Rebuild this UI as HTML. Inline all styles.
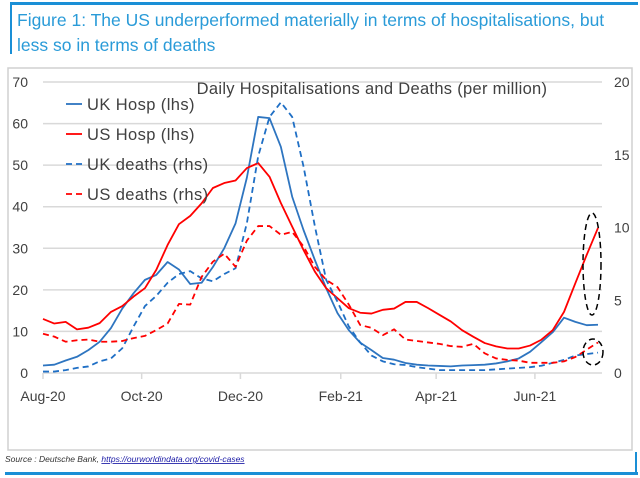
<!DOCTYPE html>
<html><head><meta charset="utf-8"><style>
body{margin:0;background:#fff;width:640px;height:478px;overflow:hidden;font-family:"Liberation Sans",sans-serif}
</style></head><body>
<svg width="640" height="478" style="position:absolute;left:0;top:0">
<rect x="10" y="2" width="628" height="3" fill="#1a8fd6"/>
<rect x="10" y="2" width="2" height="52" fill="#1a8fd6"/>
<text x="17" y="26" font-size="17.5" fill="#2a9bd8">Figure 1: The US underperformed materially in terms of hospitalisations, but</text>
<text x="17" y="51" font-size="17.5" fill="#2a9bd8">less so in terms of deaths</text>
<rect x="8" y="68" width="624" height="382" fill="none" stroke="#d0d0d0" stroke-width="1.5"/>
<text x="5" y="462" font-size="8.5" font-style="italic" fill="#333">Source : Deutsche Bank, <tspan fill="#1a1aa6" text-decoration="underline">https://ourworldindata.org/covid-cases</tspan></text>
<rect x="5" y="472" width="633" height="3" fill="#1a8fd6"/>
<rect x="635" y="452" width="2" height="22" fill="#1a8fd6"/>
<g id="chart"></g>
</svg>
<script>
const xLabels=["Aug-20","Oct-20","Dec-20","Feb-21","Apr-21","Jun-21"];
const xTickWeeks=[0,8.71,17.43,26.29,34.71,43.43];
const leftTicks=[0,10,20,30,40,50,60,70];
const rightTicks=[0,5,10,15,20];
const ukHosp=[1.8,2,3,3.9,5.5,7.5,10.8,15.5,19.2,22.4,23.6,26.7,24.9,21.4,21.7,25.5,30,36,47,61.6,61.3,54.4,42.4,34.4,27.2,20.4,14.4,10.3,7.3,5.5,3.6,3.2,2.4,2,1.8,1.7,1.6,1.8,1.9,2,2.3,2.8,3.5,5.1,7.4,9.8,13.3,12.3,11.5,11.6];
const usHosp=[13,11.9,12.3,10.5,10.9,12,14.7,16.1,18.4,20.4,24.8,30.8,35.8,37.8,40.8,44.5,45.7,46.3,49.3,50.5,47.2,40.9,35.2,29.6,24.4,20.4,18,15.6,14.5,14.3,15.2,15.5,17.1,17.1,15.6,14,12.4,10.3,8.7,7.2,6.4,5.9,5.9,6.6,8,10.3,14.7,21.6,28.4,34.9];
const ukDeaths=[0.1,0.1,0.2,0.35,0.45,0.8,1,1.7,3.2,4.6,5.3,6.2,6.8,7,6.5,6.3,6.8,7.2,10.3,14.9,17.6,18.6,17.6,14.2,10.1,6.4,4.9,3.2,2.1,1.2,0.8,0.6,0.55,0.4,0.3,0.2,0.2,0.2,0.2,0.2,0.25,0.3,0.35,0.4,0.5,0.7,0.9,1.2,1.3,1.4];
const usDeaths=[2.7,2.5,2.15,2.25,2.3,2.15,2.15,2.2,2.4,2.55,2.95,3.4,4.75,4.7,6.6,7.65,8.2,7.3,9.1,10.1,10.1,9.5,9.7,8.7,7.3,6.4,5.9,4.7,3.3,3.1,2.6,3,2.3,2.2,2.1,2,1.85,1.8,2,1.35,1,0.9,0.85,0.7,0.7,0.7,0.8,1.1,1.6,2.1];
const seriesNames=["UK Hosp (lhs)","US Hosp (lhs)","UK deaths (rhs)","US deaths (rhs)"];
const NS="http://www.w3.org/2000/svg";
const g=document.getElementById('chart');
const X0=43,X1=598,YB=373,YT=82;
const x=i=>X0+i*(X1-X0)/49;
const yL=v=>YB-v*(YB-YT)/70;
const yR=v=>YB-v*(YB-YT)/20;
function mk(t,a){const e=document.createElementNS(NS,t);for(const k in a)e.setAttribute(k,a[k]);g.appendChild(e);return e;}
leftTicks.forEach(v=>{
 if(v>0){const l=mk('line',{x1:X0,x2:X1+4,y1:yL(v),y2:yL(v),stroke:'#d9d9d9','stroke-width':1.5});
 
 }
 const t=mk('text',{x:28,y:yL(v)+5,'font-size':14,fill:'#404040','text-anchor':'end'});t.textContent=v;
 
 
});
rightTicks.forEach(v=>{
 const t=mk('text',{x:614,y:yR(v)+5,'font-size':14,fill:'#404040'});t.textContent=v;
 
 
});
const ax=mk('line',{x1:X0,x2:X1+4,y1:YB,y2:YB,stroke:'#d9d9d9','stroke-width':1.5});


xLabels.forEach((s,k)=>{
 const xx=x(xTickWeeks[k]);
 const tk=mk('line',{x1:xx,x2:xx,y1:YB,y2:YB+6,stroke:'#d9d9d9','stroke-width':1.5});
 
 
 const t=mk('text',{x:xx,y:YB+28,'font-size':14,fill:'#404040','text-anchor':'middle'});t.textContent=s;
 
 
});
const ct=mk('text',{x:372,y:94,'font-size':16.5,fill:'#404040','text-anchor':'middle','letter-spacing':0.3});
ct.textContent='Daily Hospitalisations and Deaths (per million)';


function line(data,sc,color,dash,name){
 const p=mk('polyline',{points:data.map((v,i)=>x(i)+','+sc(v)).join(' '),fill:'none',stroke:color,'stroke-width':1.8,'stroke-dasharray':dash,'stroke-linejoin':'round'});
 
 
}
line(ukHosp,yL,'#2e75c0','none','uk-hosp-line');
line(usHosp,yL,'#ff0000','none','us-hosp-line');
line(ukDeaths,yR,'#1f6fc5','6,4','uk-deaths-line');
line(usDeaths,yR,'#ff0000','6,4','us-deaths-line');
const cols=['#2e75c0','#ff0000','#1f6fc5','#ff0000'],dashes=['none','none','6,4','6,4'],ly=[104,134,164,194];
seriesNames.forEach((s,k)=>{
 const l=mk('line',{x1:66,x2:82,y1:ly[k],y2:ly[k],stroke:cols[k],'stroke-width':1.8,'stroke-dasharray':dashes[k]});
 
 
 const t=mk('text',{x:87,y:ly[k]+6,'font-size':16.5,fill:'#404040','letter-spacing':0.4});t.textContent=s;
 
 
});
const e1=mk('ellipse',{cx:592,cy:264,rx:9,ry:51,fill:'none',stroke:'#000','stroke-width':1.5,'stroke-dasharray':'6,4'});


const e2=mk('ellipse',{cx:593,cy:352,rx:10,ry:13,fill:'none',stroke:'#000','stroke-width':1.5,'stroke-dasharray':'6,4'});


</script>
</body></html>
